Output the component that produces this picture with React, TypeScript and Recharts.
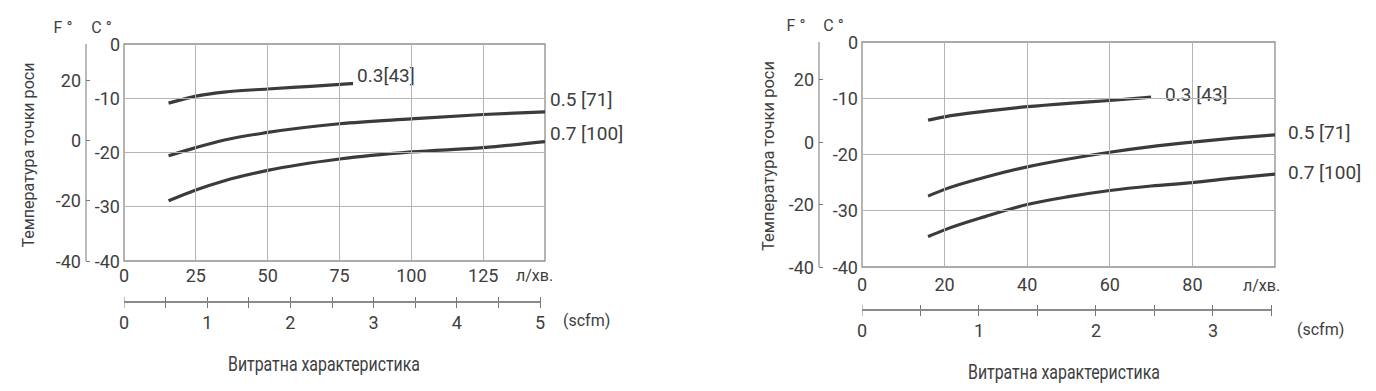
import React from 'react';
import { LineChart, Line, XAxis, YAxis, ReferenceArea, LabelList } from 'recharts';

// shared dew point axes
const dewTicksC = [-40, -30, -20, -10, 0];
const dewTicksF = [-40, -20, 0, 20];

// left chart: flow in l/min, second scale in scfm
const leftFlowTicks = [0, 25, 50, 75, 100, 125];
const leftScfmTicks = [0, 0.5, 1, 1.5, 2, 2.5, 3, 3.5, 4, 4.5, 5];
const leftFlowMax = 146.5;
const leftScfmMax = 5.06;
const leftLabels = ['0.3[43]', '0.5 [71]', '0.7 [100]'];

const leftQ03 = [15.5, 25, 36, 50, 65, 79.7];
const leftT03 = [-10.9, -9.6, -8.8, -8.3, -7.8, -7.3];
const leftQ05 = [15.5, 25, 35, 50, 75, 100, 125, 146.5];
const leftT05 = [-20.6, -19.1, -17.7, -16.3, -14.7, -13.8, -13.0, -12.5];
const leftQ07 = [15.5, 25, 35, 50, 75, 100, 125, 146.5];
const leftT07 = [-28.9, -26.9, -25.2, -23.3, -21.2, -19.9, -19.1, -18.0];

// right chart
const rightFlowTicks = [0, 20, 40, 60, 80];
const rightScfmTicks = [0, 0.5, 1, 1.5, 2, 2.5, 3, 3.5];
const rightFlowMax = 100;
const rightScfmMax = 3.53;
const rightLabels = ['0.3 [43]', '0.5 [71]', '0.7 [100]'];

const rightQ03 = [16, 20, 30, 40, 50, 60, 70];
const rightT03 = [-13.9, -13.3, -12.3, -11.5, -10.9, -10.4, -9.8];
const rightQ05 = [16, 20, 30, 40, 50, 60, 70, 80, 90, 100];
const rightT05 = [-27.4, -26.2, -24.0, -22.2, -20.8, -19.6, -18.6, -17.8, -17.1, -16.5];
const rightQ07 = [16, 20, 30, 40, 50, 60, 70, 80, 90, 100];
const rightT07 = [-34.6, -33.4, -31.0, -28.9, -27.5, -26.4, -25.6, -25.0, -24.2, -23.5];

const FONT = 'Roboto, "DejaVu Sans", sans-serif';
const TEXT = '#3e3e3e';
const CURVE = '#3b3b3b';
const GRID = '#b4b4b4';
const TICK_SIZE = 18;
const SCFM_H = 30;

const pairs = (q: number[], t: number[]) => q.map((v, i) => ({ q: v, t: t[i] }));

type Series = { data: { q: number; t: number }[]; label: string; dx: number; dy: number };

type ChartProps = {
  series: Series[];
  flowMax: number;
  flowTicks: number[];
  scfmMax: number;
  scfmTicks: number[];
  width: number;
  height: number;
  margin: { top: number; right: number; bottom: number; left: number };
  cWidth: number;
  fWidth: number;
  flowAxisHeight: number;
  flowTickMargin: number;
};

const FTick = (props: any) => {
  const { x, y, payload } = props;
  return (
    <g>
      <text x={x} y={y} textAnchor="end" dominantBaseline="central" fontSize={TICK_SIZE} fill={TEXT} fontFamily={FONT}>
        {payload.value}
      </text>
      <line x1={x + 5} x2={x + 9} y1={y} y2={y} stroke="#777" strokeWidth={1} shapeRendering="crispEdges" />
    </g>
  );
};

const DewChart = (p: ChartProps) => {
  const plotLeft = p.margin.left + p.cWidth + p.fWidth;
  const plotW = p.width - plotLeft - p.margin.right;
  const plotH = p.height - p.margin.top - p.margin.bottom - p.flowAxisHeight - SCFM_H;

  // flow tick + vertical grid line
  const QTick = (props: any) => {
    const { x, y, payload } = props;
    const v = payload.value as number;
    const bottom = y - p.flowTickMargin;
    return (
      <g>
        {v > 0 && (
          <line x1={x} x2={x} y1={bottom} y2={bottom - plotH} stroke={GRID} strokeWidth={1} shapeRendering="crispEdges" />
        )}
        <text x={x} y={y} dy="0.71em" textAnchor="middle" fontSize={TICK_SIZE} fill={TEXT} fontFamily={FONT}>
          {v}
        </text>
      </g>
    );
  };

  // celsius tick + horizontal grid line
  const CTick = (props: any) => {
    const { x, y, payload } = props;
    const v = payload.value as number;
    const left = x + 4;
    return (
      <g>
        {v > -40 && v < 0 && (
          <line x1={left} x2={left + plotW} y1={y} y2={y} stroke={GRID} strokeWidth={1} shapeRendering="crispEdges" />
        )}
        <text x={x} y={y} textAnchor="end" dominantBaseline="central" fontSize={TICK_SIZE} fill={TEXT} fontFamily={FONT}>
          {v}
        </text>
      </g>
    );
  };

  const ScfmTick = (props: any) => {
    const { x, y, payload } = props;
    const v = payload.value as number;
    const step = v > 0 ? (x - plotLeft) / (v / 0.5) : 0;
    return (
      <g>
        {v > 0 && (
          <line x1={x - step} x2={x} y1={y} y2={y} stroke="#8a8a8a" strokeWidth={1.3} shapeRendering="crispEdges" />
        )}
        <line
          x1={x}
          x2={x}
          y1={y - 5}
          y2={y + 6}
          stroke={v === 0 ? '#bbb' : '#777'}
          strokeWidth={1}
          shapeRendering="crispEdges"
        />
        {Number.isInteger(v) && (
          <text x={x} y={y + 20} textAnchor="middle" dominantBaseline="central" fontSize={TICK_SIZE} fill={TEXT} fontFamily={FONT}>
            {v}
          </text>
        )}
      </g>
    );
  };

  return (
    <LineChart width={p.width} height={p.height} margin={p.margin}>
      <XAxis
        xAxisId="q"
        dataKey="q"
        type="number"
        domain={[0, p.flowMax]}
        allowDataOverflow
        ticks={p.flowTicks}
        height={p.flowAxisHeight}
        axisLine={false}
        tickLine={false}
        tickSize={0}
        tickMargin={p.flowTickMargin}
        interval={0}
        zIndex={-10}
        tick={(props: any) => <QTick {...props} />}
      />
      <XAxis
        xAxisId="s"
        dataKey="q"
        type="number"
        domain={[0, p.scfmMax]}
        allowDataOverflow
        ticks={p.scfmTicks}
        height={SCFM_H}
        axisLine={false}
        tickLine={false}
        tickSize={0}
        tickMargin={0}
        interval={0}
        tick={(props: any) => <ScfmTick {...props} />}
      />
      <YAxis
        yAxisId="c"
        type="number"
        domain={[-40, 0]}
        ticks={dewTicksC}
        width={p.cWidth}
        axisLine={false}
        tickLine={false}
        tickSize={0}
        tickMargin={4}
        interval={0}
        zIndex={-10}
        tick={(props: any) => <CTick {...props} />}
      />
      <YAxis
        yAxisId="f"
        type="number"
        domain={[-40, 32]}
        allowDataOverflow
        ticks={dewTicksF}
        width={p.fWidth}
        axisLine={{ stroke: '#777', strokeWidth: 1 }}
        tickLine={false}
        tickSize={0}
        tickMargin={5}
        interval={0}
        tick={(props: any) => <FTick {...props} />}
      />
      <ReferenceArea
        xAxisId="q"
        yAxisId="c"
        x1={0}
        x2={p.flowMax}
        y1={-40}
        y2={0}
        fill="none"
        stroke="#8e8e8e"
        strokeWidth={1.3}
      />
      {p.series.map((s, i) => (
        <Line
          key={i}
          data={s.data}
          dataKey="t"
          xAxisId="q"
          yAxisId="c"
          type="monotone"
          stroke={CURVE}
          strokeWidth={3.2}
          dot={false}
          isAnimationActive={false}
        >
          <LabelList
            dataKey="t"
            content={(lp: any) =>
              lp.index === s.data.length - 1 ? (
                <text
                  x={lp.x + s.dx}
                  y={lp.y + s.dy}
                  dominantBaseline="central"
                  fontSize={19}
                  fill={TEXT}
                  fontFamily={FONT}
                >
                  {s.label}
                </text>
              ) : null
            }
          />
        </Line>
      ))}
    </LineChart>
  );
};

const leftSeries: Series[] = [
  { data: pairs(leftQ03, leftT03), label: leftLabels[0], dx: 4, dy: -8 },
  { data: pairs(leftQ05, leftT05), label: leftLabels[1], dx: 5, dy: -12 },
  { data: pairs(leftQ07, leftT07), label: leftLabels[2], dx: 5, dy: -8 },
];

const rightSeries: Series[] = [
  { data: pairs(rightQ03, rightT03), label: rightLabels[0], dx: 14, dy: -3 },
  { data: pairs(rightQ05, rightT05), label: rightLabels[1], dx: 13, dy: -2 },
  { data: pairs(rightQ07, rightT07), label: rightLabels[2], dx: 13, dy: -2 },
];

const T = ({ x, y, children, size = 16.5, anchor = 'start', rotate = 0, length }: any) => (
  <text
    x={x}
    y={y}
    textAnchor={anchor}
    dominantBaseline="central"
    fontSize={size}
    fill={TEXT}
    fontFamily={FONT}
    textLength={length}
    lengthAdjust={length ? 'spacingAndGlyphs' : undefined}
    transform={rotate ? `rotate(${rotate} ${x} ${y})` : undefined}
  >
    {children}
  </text>
);

export default function App() {
  return (
    <div style={{ position: 'absolute', left: 0, top: 0, width: 1376, height: 391, background: '#fff' }}>
      <div style={{ position: 'absolute', left: 0, top: 0 }}>
        <DewChart
          series={leftSeries}
          flowMax={leftFlowMax}
          flowTicks={leftFlowTicks}
          scfmMax={leftScfmMax}
          scfmTicks={leftScfmTicks}
          width={688}
          height={345}
          margin={{ top: 44, right: 143, bottom: 13, left: 46 }}
          cWidth={38}
          fWidth={40}
          flowAxisHeight={41}
          flowTickMargin={8}
        />
      </div>
      <div style={{ position: 'absolute', left: 688, top: 0 }}>
        <DewChart
          series={rightSeries}
          flowMax={rightFlowMax}
          flowTicks={rightFlowTicks}
          scfmMax={rightScfmMax}
          scfmTicks={rightScfmTicks}
          width={688}
          height={345}
          margin={{ top: 42, right: 101, bottom: 5, left: 91 }}
          cWidth={43}
          fWidth={40}
          flowAxisHeight={43}
          flowTickMargin={11}
        />
      </div>
      <svg width={1376} height={391} style={{ position: 'absolute', left: 0, top: 0, pointerEvents: 'none' }}>
        <T x={63} y={27.5} size={16} anchor="middle">F °</T>
        <T x={101.5} y={27.5} size={16} anchor="middle">C °</T>
        <T x={796} y={25} size={16} anchor="middle">F °</T>
        <T x={833.5} y={25} size={16} anchor="middle">C °</T>
        <T x={27.5} y={155} size={17} anchor="middle" rotate={-90} length={185}>Температура точки роси</T>
        <T x={767.5} y={156} size={17} anchor="middle" rotate={-90} length={190}>Температура точки роси</T>
        <T x={516} y={275} size={16}>л/хв.</T>
        <T x={1243} y={285} size={16}>л/хв.</T>
        <T x={563} y={320} size={16}>(scfm)</T>
        <T x={1297} y={329} size={16}>(scfm)</T>
        <T x={324} y={364} size={21} anchor="middle" length={192}>Витратна характеристика</T>
        <T x={1064} y={372} size={21} anchor="middle" length={192}>Витратна характеристика</T>
      </svg>
    </div>
  );
}
